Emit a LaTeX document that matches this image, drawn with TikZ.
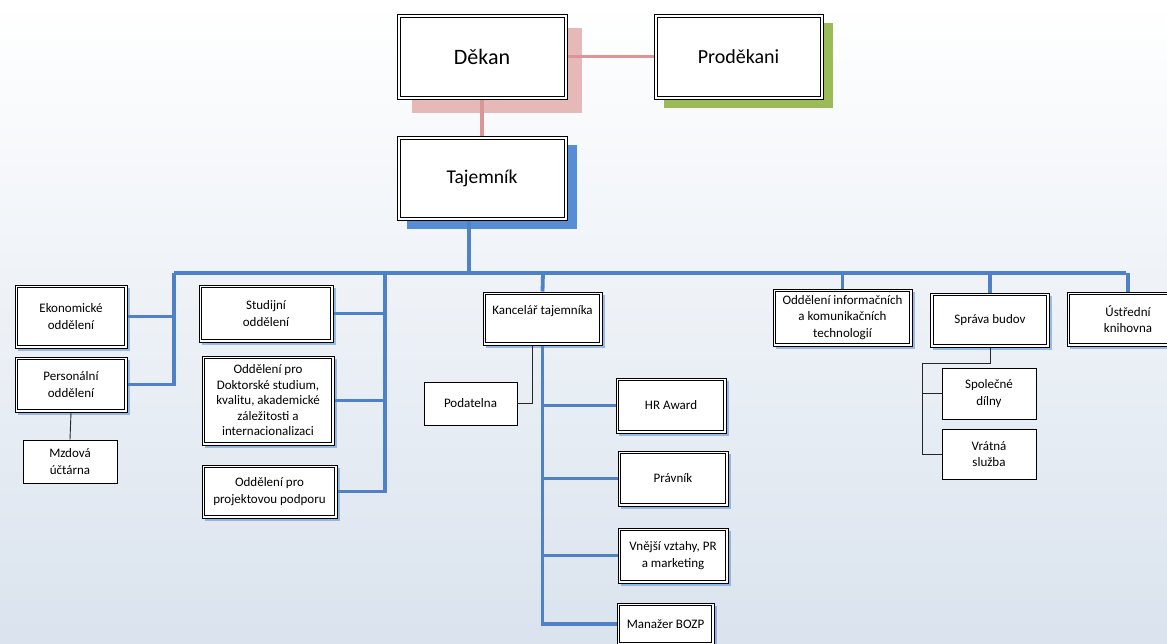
\documentclass[tikz,border=0pt]{standalone}
\usepackage{fontspec}
\setmainfont{Carlito}
\usepackage{xcolor}
\usepackage{tikz}
\usetikzlibrary{shadows}
\definecolor{orgblue}{RGB}{79,129,199}
\definecolor{shblue}{RGB}{85,142,213}
\definecolor{orgpink}{RGB}{216,150,148}
\definecolor{shpink}{RGB}{230,185,184}
\definecolor{shgreen}{RGB}{155,187,89}
\definecolor{bgbottom}{RGB}{218,227,238}
\tikzset{
    innerline/.style = {path picture={\draw[black, line width=1pt] ([shift={(#1,-#1)}]path picture bounding box.north west) rectangle ([shift={(-#1,#1)}]path picture bounding box.south east);}},
    topbox/.style = {rectangle, draw=black, line width=1pt, fill=white, align=center, innerline=3pt},
    unitbox/.style = {rectangle, draw=black, line width=1pt, fill=white, align=center, inner sep=2pt, innerline=2.6pt, font=\fontsize{13}{16.5}\selectfont, shadowsmall},
    subbox/.style = {rectangle, draw=black, line width=0.9pt, fill=white, align=center, inner sep=2pt, font=\fontsize{13}{16.5}\selectfont},
    shadowpink/.style = {drop shadow={shadow xshift=15pt, shadow yshift=-14pt, fill=shpink, opacity=1, draw=none}},
    shadowgreen/.style = {drop shadow={shadow xshift=10pt, shadow yshift=-9pt, fill=shgreen, opacity=1, draw=none}},
    shadowblue/.style = {drop shadow={shadow xshift=10pt, shadow yshift=-9pt, fill=shblue, opacity=1, draw=none}},
    shadowsmall/.style = {drop shadow={shadow xshift=2.5pt, shadow yshift=-2.5pt, fill=shblue, opacity=0.55, draw=none}},
}
\begin{document}
\begin{tikzpicture}[x=1pt, y=-1pt]
\tikzset{
    edgeb/.style = {-, line width=3.8pt, orgblue},
    edgep/.style = {-, line width=3.8pt, orgpink},
    edgek/.style = {-, line width=0.9pt, black!85},
}
\shade[top color=white, bottom color=bgbottom] (0,0) rectangle (1167,643);
\useasboundingbox (0,0) rectangle (1167,643);
%
\node[topbox, shadowpink, minimum width=170pt, minimum height=85pt, font=\fontsize{22}{26}\selectfont] at (482,56.5) (dekan) {Děkan};
\node[topbox, shadowgreen, minimum width=169pt, minimum height=85pt, font=\fontsize{20}{24}\selectfont] at (738.5,56.5) (prodekani) {Proděkani};
\node[topbox, shadowblue, minimum width=170pt, minimum height=84pt, font=\fontsize{19.5}{23}\selectfont] at (482,178) (tajemnik) {Tajemník};
%
\node[unitbox, minimum width=112pt, minimum height=63pt] at (71,316.5) (ekonom) {Ekonomické\\oddělení};
\node[unitbox, minimum width=112pt, minimum height=55pt] at (71,384.5) (personal) {Personální\\oddělení};
\node[subbox, minimum width=94pt, minimum height=43pt] at (70,461.5) (mzdova) {Mzdová\\účtárna};
%
\node[unitbox, minimum width=134pt, minimum height=57pt] at (266,313.5) (studijni) {Studijní\\oddělení};
\node[unitbox, minimum width=132pt, minimum height=89pt, inner sep=1pt, font=\fontsize{13}{15.5}\selectfont] at (268,400.5) (doktor) {Oddělení pro\\Doktorské studium,\\kvalitu, akademické\\záležitosti a\\internacionalizaci};
\node[unitbox, minimum width=135pt, minimum height=53pt] at (269.5,491.5) (projekt) {Oddělení pro\\projektovou podporu};
%
\node[unitbox, minimum width=119pt, minimum height=53pt] at (542.5,318.5) (kancelar) {Kancelář tajemníka\\\mbox{}};
\node[subbox, minimum width=93pt, minimum height=43pt] at (470.5,403.5) (podatelna) {Podatelna};
\node[unitbox, minimum width=110pt, minimum height=55pt] at (671,405.5) (hraward) {HR Award};
\node[unitbox, minimum width=110pt, minimum height=55pt] at (673,478.5) (pravnik) {Právník};
\node[unitbox, minimum width=110pt, minimum height=55pt] at (673,555.5) (vnejsi) {Vnější vztahy, PR\\a marketing};
\node[unitbox, minimum width=97pt, minimum height=42pt] at (665.5,624) (bozp) {Manažer BOZP};
%
\node[unitbox, minimum width=139pt, minimum height=57pt] at (842.5,317.5) (oikt) {Oddělení informačních\\a komunikačních\\technologií};
\node[unitbox, minimum width=119pt, minimum height=54pt] at (990,320) (sprava) {Správa budov};
\node[unitbox, minimum width=122pt, minimum height=54pt] at (1128,319) (ustredni) {Ústřední\\knihovna};
\node[subbox, minimum width=94pt, minimum height=51pt] at (989,393.5) (spolecne) {Společné\\dílny};
\node[subbox, minimum width=94pt, minimum height=50pt] at (989,454) (vratna) {Vrátná\\služba};
%
\coordinate (bust) at (469,273);
\coordinate (busl) at (174,273);
\coordinate (busr) at (1126,273);
\coordinate (buss) at (385,273);
\coordinate (busk) at (543,273);
\coordinate (sbr) at (922,363);
%
\draw[edgep] (dekan.east) -- (prodekani.west);
\draw[edgep] (dekan.south) -- (tajemnik.north);
%
\draw[edgeb] (tajemnik.south -| bust) -- (bust);
\draw[edgeb] (busl) -- (busr);
\draw[edgeb] (busl) |- (personal.east);
\draw[edgeb] (ekonom.east) -- (ekonom.east -| busl);
\draw[edgeb] (buss) |- (projekt.east);
\draw[edgeb] (studijni.east) -- (studijni.east -| buss);
\draw[edgeb] (doktor.east) -- (doktor.east -| buss);
\draw[edgeb] (busk) -- (kancelar.north);
\draw[edgeb] (kancelar.south) |- (bozp.west);
\draw[edgeb] (hraward.west) -- (hraward.west -| busk);
\draw[edgeb] (pravnik.west) -- (pravnik.west -| busk);
\draw[edgeb] (vnejsi.west) -- (vnejsi.west -| busk);
\draw[edgeb] (oikt.north |- busr) -- (oikt.north);
\draw[edgeb] (sprava.north |- busr) -- (sprava.north);
\draw[edgeb] (ustredni.north |- busr) -- (ustredni.north);
%
\draw[edgek] (personal.south) -- (mzdova.north);
\draw[edgek] ([xshift=-10pt]kancelar.south) |- (podatelna.east);
\draw[edgek] (sprava.south) |- (sbr) |- (vratna.west);
\draw[edgek] (sbr |- spolecne.west) -- (spolecne.west);
\end{tikzpicture}
\end{document}
